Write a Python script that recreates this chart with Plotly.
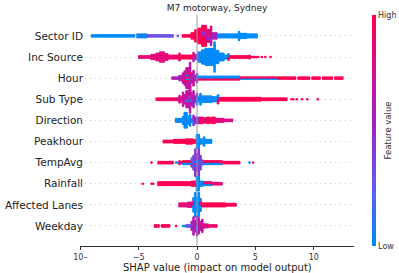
import numpy as np
import plotly.graph_objects as go

# Feature names, top to bottom
FEATURES = ["Sector ID", "Inc Source", "Hour", "Sub Type", "Direction",
            "Peakhour", "TempAvg", "Rainfall", "Affected Lanes", "Weekday"]

# SHAP distribution per feature:
# (shap_from, shap_to, points_per_bin, feature_value 0=low .. 1=high)
SECTOR_ID = [
    (-9.1, -5.3, 2, 0.0), (-5.2, -4.3, 3, 0.05), (-4.3, -2.0, 2, 0.3),
    (-1.6, -1.6, 1, 0.35), (-1.3, -0.5, 2, 1.0), (-0.5, -0.2, 5, 1.0),
    (-0.2, 0.05, 9, 1.0), (0.05, 0.8, 12, 1.0), (0.4, 1.2, 4, 0.5),
    (0.8, 1.2, 6, 0.9), (1.2, 1.7, 5, 0.6), (1.7, 3.6, 3, 0.0),
    (3.6, 4.3, 4, 0.0), (4.3, 5.2, 3, 0.0),
]
INC_SOURCE = [
    (-5.0, -4.0, 2, 0.85), (-4.0, -3.5, 4, 0.85), (-3.5, -3.2, 6, 0.85),
    (-3.2, -2.8, 8, 0.85), (-2.8, -2.5, 5, 0.85), (-2.5, -1.5, 3, 0.9),
    (-1.5, -0.3, 3, 1.0), (-0.3, 0.1, 4, 0.6), (0.1, 0.4, 8, 0.05),
    (0.4, 0.7, 11, 0.0), (0.7, 1.5, 13, 0.0), (1.5, 1.9, 10, 0.0),
    (1.9, 2.3, 6, 0.0), (2.3, 2.7, 3, 0.0), (2.7, 4.5, 2, 1.0),
    (4.5, 5.3, 1, 1.0), (5.6, 5.6, 1, 1.0), (5.9, 5.9, 1, 1.0),
    (6.3, 6.3, 1, 1.0),
]
HOUR = [
    (-2.1, -1.6, 2, 0.6), (-1.6, -1.3, 4, 0.6), (-1.3, -1.0, 8, 0.65),
    (-1.0, -0.6, 11, 0.7), (-1.1, -0.5, 3, 1.0), (-1.0, -0.6, 2, 0.0),
    (-0.6, -0.3, 8, 0.7), (-0.3, 0.0, 4, 0.55), (0.0, 3.7, 2, 0.0),
    (0.0, 3.7, 1, 1.0), (3.7, 7.0, 1, 0.0), (3.7, 7.0, 1, 1.0),
    (7.0, 8.4, 2, 1.0), (8.6, 9.6, 2, 1.0), (9.8, 10.6, 2, 1.0),
    (10.8, 11.6, 2, 1.0), (11.8, 12.5, 2, 1.0),
]
SUB_TYPE = [
    (-3.5, -2.0, 2, 0.95), (-2.0, -1.5, 2, 0.85), (-1.5, -1.2, 4, 0.75),
    (-1.2, -1.0, 7, 0.7), (-1.0, -0.6, 11, 0.7), (-1.0, -0.4, 2, 0.1),
    (-0.6, -0.3, 8, 0.65), (-0.3, 0.0, 5, 0.5), (0.0, 0.3, 4, 0.0),
    (0.3, 1.3, 5, 0.0), (1.3, 1.8, 4, 0.0), (1.8, 5.5, 3, 1.0),
    (5.5, 7.7, 2, 1.0), (8.0, 8.3, 1, 1.0), (8.6, 8.6, 1, 1.0),
    (9.0, 9.0, 1, 1.0), (9.4, 9.4, 1, 1.0), (10.3, 10.3, 1, 1.0),
]
DIRECTION = [
    (-1.9, -1.3, 3, 0.0), (-1.3, -1.1, 6, 0.0), (-1.1, -0.8, 12, 0.0),
    (-0.8, -0.6, 6, 0.0), (-0.6, -0.3, 3, 0.05), (-0.3, 0.2, 5, 0.5),
    (0.2, 0.5, 5, 1.0), (0.5, 0.8, 4, 0.8), (0.8, 1.1, 5, 1.0),
    (1.1, 1.3, 4, 0.85), (1.3, 1.6, 5, 1.0), (1.6, 2.3, 3, 0.85),
    (2.3, 3.1, 2, 0.8),
]
PEAKHOUR = [
    (-2.9, -2.0, 2, 1.0), (-2.0, -1.0, 3, 1.0), (-1.0, -0.4, 4, 1.0),
    (-0.4, -0.1, 3, 1.0), (-0.05, 0.25, 11, 0.0), (0.25, 0.6, 4, 0.0),
    (0.6, 1.2, 3, 0.0),
]
TEMPAVG = [
    (-3.9, -3.9, 1, 1.0), (-3.3, -2.0, 2, 1.0), (-1.9, -1.5, 1, 0.0),
    (-1.5, -0.45, 2, 1.0), (-1.2, -0.45, 1, 0.0), (-0.45, -0.3, 4, 0.3),
    (-0.3, -0.15, 7, 0.4), (-0.15, 0.15, 12, 0.45), (-0.15, 0.15, 2, 0.0),
    (0.15, 0.3, 7, 0.4), (0.3, 0.5, 4, 0.3), (0.5, 2.2, 2, 1.0),
    (0.5, 2.2, 1, 0.0), (2.2, 3.7, 2, 1.0), (4.5, 4.5, 1, 0.0),
    (4.8, 4.8, 1, 0.8),
]
RAINFALL = [
    (-4.6, -4.6, 1, 1.0), (-3.9, -3.7, 1, 1.0), (-3.3, -1.0, 3, 1.0),
    (-1.0, -0.1, 3, 1.0), (-0.5, -0.1, 1, 0.7), (-0.05, 0.25, 11, 0.0),
    (0.25, 0.5, 4, 0.0), (0.5, 2.1, 2, 0.9), (0.5, 1.2, 1, 0.0),
]
AFFECTED_LANES = [
    (-1.5, -0.8, 3, 0.85), (-0.8, -0.3, 4, 0.85), (-0.3, -0.15, 7, 0.0),
    (-0.15, 0.15, 12, 0.0), (0.15, 0.3, 7, 0.0), (0.3, 2.5, 3, 1.0),
    (2.5, 3.4, 2, 1.0),
]
WEEKDAY = [
    (-3.7, -3.2, 2, 1.0), (-3.0, -2.3, 2, 1.0), (-1.8, -1.8, 1, 1.0),
    (-1.3, -1.0, 1, 0.0), (-1.0, -0.45, 2, 0.3), (-0.45, -0.3, 5, 0.6),
    (-0.3, -0.1, 9, 0.6), (-0.1, 0.25, 12, 0.65), (-0.1, 0.1, 3, 0.0),
    (0.25, 0.45, 7, 0.7), (0.45, 1.0, 3, 0.8), (1.0, 1.7, 2, 0.9),
]

SERIES = [SECTOR_ID, INC_SOURCE, HOUR, SUB_TYPE, DIRECTION,
          PEAKHOUR, TEMPAVG, RAINFALL, AFFECTED_LANES, WEEKDAY]

X_TICKS = [-10, -5, 0, 5, 10]
X_TICK_LABELS = ["10\u2013", "\u22125", "0", "5", "10"]

BIN = 0.15       # shap units per swarm bin
SPACING = 0.062  # vertical step between stacked points (row units)


def swarm(segments, row):
    bins = {}
    for a, b, n, c in segments:
        i0 = int(np.ceil(a / BIN - 1e-9))
        i1 = int(np.floor(b / BIN + 1e-9))
        if i1 < i0:
            i0 = i1 = int(round(a / BIN))
        for i in range(i0, i1 + 1):
            bins.setdefault(i, []).append([c] * n)
    xs, ys, cs = [], [], []
    for i, groups in bins.items():
        order = []
        while any(groups):
            for g in groups:
                if g:
                    order.append(g.pop())
        n = len(order)
        pos = sorted([j - (n - 1) / 2 for j in range(n)], key=lambda p: (abs(p), p))
        for p, c in zip(pos, order):
            xs.append(i * BIN)
            ys.append(row + p * SPACING)
            cs.append(c)
    return xs, ys, cs


COLORSCALE = [[0.0, "rgb(0,139,251)"], [0.25, "rgb(100,92,238)"],
              [0.5, "rgb(150,40,200)"], [0.75, "rgb(210,15,150)"],
              [1.0, "rgb(255,0,82)"]]

X, Y, C = [], [], []
nrows = len(FEATURES)
for k, seg in enumerate(SERIES):
    row = nrows - 1 - k
    xs, ys, cs = swarm(seg, row)
    X += xs
    Y += ys
    C += cs

fig = go.Figure()
fig.add_trace(go.Scatter(
    x=X, y=Y, mode="markers", hoverinfo="skip",
    marker=dict(size=2.6, color=C, colorscale=COLORSCALE, cmin=0, cmax=1,
                line=dict(width=0),
                showscale=True,
                colorbar=dict(thickness=3.5, thicknessmode="pixels",
                              len=231, lenmode="pixels",
                              x=(372 - 80) / 274, xanchor="left",
                              y=0.5, yanchor="middle", xpad=0, ypad=0,
                              tickvals=[0, 1], ticktext=["Low", "High"],
                              ticks="", outlinewidth=0,
                              tickfont=dict(size=8, color="#333333"))),
))

fig.add_shape(type="line", x0=0, x1=0, y0=0, y1=1, yref="paper",
              line=dict(color="#999999", width=1), layer="above")

fig.update_layout(
    width=399, height=273,
    margin=dict(l=80, r=45, t=15, b=27, autoexpand=False),
    plot_bgcolor="white", paper_bgcolor="white",
    font=dict(family="DejaVu Sans", color="#333333"),
    showlegend=False,
    title=dict(text="M7 motorway, Sydney", x=217 / 399, xanchor="center",
               y=1 - 8 / 273, yanchor="middle",
               font=dict(size=9, color="#222222")),
    xaxis=dict(range=[-10.03, 13.45], showgrid=False, zeroline=False,
               automargin=False,
               showline=True, linecolor="#333333", linewidth=1,
               ticks="outside", ticklen=3, tickcolor="#333333",
               tickvals=X_TICKS, ticktext=X_TICK_LABELS,
               tickfont=dict(size=8, color="#333333")),
    yaxis=dict(range=[-0.95, 9.99], showgrid=True, gridcolor="#cccccc",
               automargin=False, ticklabelstandoff=-4,
               griddash="1px,4px", gridwidth=0.5, zeroline=False,
               showline=False, ticks="",
               tickvals=list(range(nrows)),
               ticktext=FEATURES[::-1],
               tickfont=dict(size=10.5, color="#222222")),
)

fig.add_annotation(text="SHAP value (impact on model output)",
                   xref="paper", yref="paper", x=0.5, y=(246 - 267) / 231,
                   xanchor="center", yanchor="middle", showarrow=False,
                   font=dict(size=10, color="#222222"))
fig.add_annotation(text="Feature value", textangle=-90,
                   xref="paper", yref="paper", x=(387 - 80) / 274, y=0.5,
                   xanchor="center", yanchor="middle", showarrow=False,
                   font=dict(size=8.5, color="#333333"))

fig.write_html("out.html",
               config={"displayModeBar": False},
               post_script="document.body.style.margin='0';"
                           "document.body.style.overflow='hidden';")
